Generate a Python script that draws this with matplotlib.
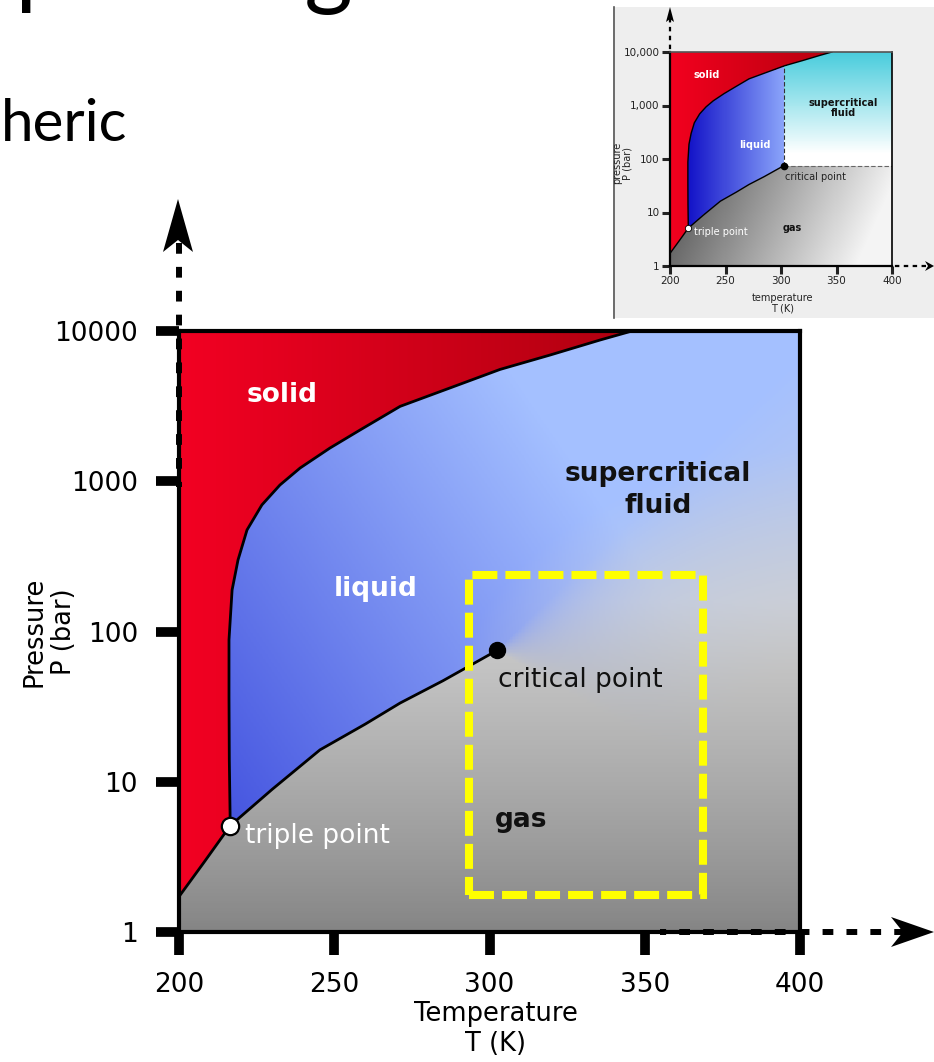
import numpy as np
import matplotlib.pyplot as plt
from matplotlib.path import Path
from matplotlib.patches import Polygon, Rectangle
from matplotlib.lines import Line2D
from matplotlib.ticker import NullLocator

# CO2 phase boundaries, T in K, P in bar
sub_T = [200.0, 208.0, 216.5]
sub_P = [1.72, 2.9, 5.1]
melt_T = [216.5, 216.2, 216.1, 216.1, 217.1, 219.0, 221.9, 226.7, 232.5,
          239.0, 248.6, 258.3, 271.2, 287.3, 303.4, 319.5, 335.6, 345.9]
melt_P = [5.1, 14, 36.6, 88, 189, 299, 474, 696, 944,
          1225, 1663, 2193, 3150, 4180, 5550, 6918, 8710, 10000]
vap_T = [216.5, 230.0, 245.4, 260.0, 271.2, 285.0, 302.5]
vap_P = [5.1, 8.9, 16.3, 24.2, 33.4, 47.0, 75.0]
triple = (216.5, 5.1)
critical = (302.5, 75.0)

T_ticks = [200, 250, 300, 350, 400]
P_ticks = [1, 10, 100, 1000, 10000]
P_labels = ['1', '10', '100', '1000', '10000']
P_labels_small = ['1', '10', '100', '1,000', '10,000']

# operating window
op_T = (293.4, 368.8)
op_P = (1.76, 238.0)

W, H = 934, 1062


def grid(n):
    T_e = np.linspace(200, 400, n + 1)
    lp_e = np.linspace(0, 4, n + 1)
    TT, LL = np.meshgrid(0.5 * (T_e[1:] + T_e[:-1]), 0.5 * (lp_e[1:] + lp_e[:-1]))
    return T_e, 10 ** lp_e, TT, LL


def regions(TT, LL):
    lsub = np.log10(sub_P)
    lmelt = np.log10(melt_P)
    lvap = np.log10(vap_P)
    verts = [(200, 4)] + list(zip(sub_T, lsub)) + list(zip(melt_T[1:], lmelt[1:]))
    solid = Path(verts).contains_points(np.c_[TT.ravel(), LL.ravel()]).reshape(TT.shape)
    edge = np.interp(TT, sub_T + vap_T[1:], list(lsub) + list(lvap[1:]))
    gas = (TT < critical[0]) & (LL < edge) & ~solid
    return solid, gas


def lerp(c0, c1, s):
    c0 = np.array(c0) / 255.0
    c1 = np.array(c1) / 255.0
    return c0 + (c1 - c0) * s[..., None]


fig = plt.figure(figsize=(W / 100, H / 100), dpi=100)

# ---- main diagram ----
ax = fig.add_axes([179 / W, 1 - 932 / H, 621 / W, 601 / H], zorder=1)
T_e, P_e, TT, LL = grid(420)
solid, gas = regions(TT, LL)
u = (TT - 200) / 200
v = LL / 4
vc = np.log10(critical[1]) / 4

gray = lerp((131, 131, 131), (208, 208, 208), np.clip(v / 0.55, 0, 1) ** 0.85)
t = np.clip((0.9 * (u - 0.08) + 0.6 * (v - 0.2)) / 0.85, 0, 1)
blue = lerp((70, 86, 224), (164, 192, 255), t)
w = np.clip((np.hypot(u - 1.05, (v - 0.3) / 0.8) - 0.18) / 0.45, 0, 1)
# past the critical point the liquid/gas edge dissolves gradually
dT = np.clip(TT - critical[0], 0, None)
edge = vc + 0.001 * dT
soft = 0.001 + 0.004 * dT
fade = np.clip(0.5 + (v - edge) / (2 * soft), 0, 1)
w = np.where(TT >= critical[0], w * fade, w)
w[gas] = 0
red = lerp((242, 0, 34), (178, 0, 16), np.clip(u / 0.7, 0, 1))
rgb = w[..., None] * blue + (1 - w[..., None]) * gray
rgb[solid] = red[solid]
ax.pcolormesh(T_e, P_e, rgb, shading='flat', antialiased=False, zorder=0)

for xs, ys in [(sub_T, sub_P), (melt_T, melt_P), (vap_T, vap_P)]:
    ax.plot(xs, ys, color='k', lw=2, solid_capstyle='round', solid_joinstyle='round', zorder=2)
ax.plot(*critical, 'o', ms=11.5, color='k', zorder=3)
ax.plot(*triple, 'o', ms=12.5, mfc='white', mec='k', mew=1.6, zorder=3)

ax.add_patch(Rectangle((op_T[0], op_P[0]), op_T[1] - op_T[0], op_P[1] - op_P[0],
                       fill=False, ec='#ffff00', lw=5.8, ls=(0, (3.1, 1.0)), zorder=4))

fs = 19
ax.text(233.2, 3380, 'solid', color='white', weight='bold', fontsize=fs, ha='center', va='baseline')
ax.text(263.5, 171, 'liquid', color='white', weight='bold', fontsize=fs, ha='center', va='baseline')
ax.text(354.3, 1000, 'supercritical', color='#111111', weight='bold', fontsize=fs, ha='center', va='baseline')
ax.text(354.3, 615, 'fluid', color='#111111', weight='bold', fontsize=fs, ha='center', va='baseline')
ax.text(302.6, 42.6, 'critical point', color='#111111', fontsize=fs, ha='left', va='baseline', zorder=5)
ax.text(301.8, 5.02, 'gas', color='#111111', weight='bold', fontsize=fs, ha='left', va='baseline', zorder=5)
ax.text(221.3, 3.89, 'triple point', color='white', fontsize=fs, ha='left', va='baseline', zorder=5)

ax.set_xlim(200, 400)
ax.set_yscale('log')
ax.set_ylim(1, 10000)
ax.set_xticks(T_ticks, labels=[str(x) for x in T_ticks])
ax.set_yticks(P_ticks, labels=P_labels)
ax.yaxis.set_minor_locator(NullLocator())
ax.tick_params(length=16.5, width=7, labelsize=fs, direction='out')
ax.tick_params(axis='y', pad=13)
ax.tick_params(axis='x', pad=12)
for sp in ax.spines.values():
    sp.set_linewidth(3)
ax.set_xlabel('Temperature\nT (K)', fontsize=18.5, linespacing=1.2)
ax.set_ylabel('Pressure\nP (bar)', fontsize=18.5, linespacing=1.15)
ax.xaxis.set_label_coords(0.51, -0.115)
ax.yaxis.set_label_coords(-0.165, 0.5)

# ---- small copy of the diagram ----
fig.add_artist(Rectangle((613 / W, 1 - 318 / H), (W - 613) / W, 311 / H,
                         transform=fig.transFigure, fc='#eeeeee', ec='none', zorder=0.5))
fig.add_artist(Line2D([613.5 / W, 613.5 / W], [1 - 318 / H, 1 - 7 / H],
                      transform=fig.transFigure, color='#555555', lw=1.2, zorder=0.6))

ins = fig.add_axes([670 / W, 1 - 266 / H, 222 / W, 214 / H], zorder=1)
T_e, P_e, TT, LL = grid(220)
solid, gas = regions(TT, LL)
u = (TT - 200) / 200
v = LL / 4
Tc, Pc = critical
lpc = np.log10(Pc)
gas = gas | ((TT >= Tc) & (LL < lpc))
superc = (TT >= Tc) & (LL >= lpc) & ~solid
liquid = ~(solid | gas | superc)

rgb = lerp((102, 102, 102), (244, 244, 244), np.clip(1.15 * u + 0.5 * (0.47 - v) - 0.2, 0, 1))
liq = lerp((20, 20, 200), (138, 164, 250), np.clip((TT - 218) / (Tc - 218), 0, 1))
sc = lerp((255, 255, 255), (72, 204, 220), np.clip((LL - 2.1) / 1.9, 0, 1))
red = lerp((242, 0, 30), (184, 0, 14), np.clip(u / 0.7, 0, 1))
rgb[liquid] = liq[liquid]
rgb[superc] = sc[superc]
rgb[solid] = red[solid]
ins.pcolormesh(T_e, P_e, rgb, shading='flat', antialiased=False, zorder=0)

for xs, ys in [(sub_T, sub_P), (melt_T, melt_P), (vap_T, vap_P)]:
    ins.plot(xs, ys, color='k', lw=1, solid_joinstyle='round', zorder=2)
top_c = 10 ** np.interp(Tc, melt_T[8:], np.log10(melt_P[8:]))
ins.plot([Tc, Tc], [Pc, top_c], color='#333333', lw=0.8, ls=(0, (4, 2)), zorder=2)
ins.plot([Tc, 400], [Pc, Pc], color='#666666', lw=0.8, ls=(0, (4, 2)), zorder=2)
ins.plot(Tc, Pc, 'o', ms=4.5, color='k', zorder=3)
ins.plot(*triple, 'o', ms=4.5, mfc='white', mec='k', mew=0.6, zorder=3)

sf = 7
ins.text(233.3, 3700, 'solid', color='white', weight='bold', fontsize=sf, ha='center', va='center')
ins.text(276.6, 182, 'liquid', color='white', weight='bold', fontsize=sf, ha='center', va='center')
ins.text(355.9, 900, 'supercritical\nfluid', color='#111111', weight='bold', fontsize=sf,
         ha='center', va='center', linespacing=1.1)
ins.text(303.6, 46, 'critical point', color='#222222', fontsize=sf, ha='left', va='center')
ins.text(221.6, 4.3, 'triple point', color='white', fontsize=sf, ha='left', va='center')
ins.text(309.9, 5.1, 'gas', color='#111111', weight='bold', fontsize=sf, ha='center', va='center')

ins.set_xlim(200, 400)
ins.set_yscale('log')
ins.set_ylim(1, 10000)
ins.set_xticks(T_ticks, labels=[str(x) for x in T_ticks])
ins.set_yticks(P_ticks, labels=P_labels_small)
ins.yaxis.set_minor_locator(NullLocator())
ins.tick_params(length=6, width=2.2, labelsize=7.5, pad=1.5, colors='#222222')
for name, sp in ins.spines.items():
    sp.set_linewidth(1.6 if name in ('left', 'bottom') else 1.2)
ins.spines['top'].set_color('#555555')
ins.set_xlabel('temperature\nT (K)', fontsize=7, linespacing=1.1, color='#222222')
ins.set_ylabel('pressure\nP (bar)', fontsize=7, linespacing=1.1, color='#222222')
ins.xaxis.set_label_coords(0.509, -0.125)
ins.yaxis.set_label_coords(-0.167, 0.481)

# ---- slide layer: text and dashed axis arrows, in pixel units ----
deco = fig.add_axes([0, 0, 1, 1], zorder=5)
deco.set_xlim(0, W)
deco.set_ylim(H, 0)
deco.axis('off')


def dashed(xs, ys, lw, pattern):
    deco.plot(xs, ys, color='k', lw=lw, ls=(0, pattern), dash_capstyle='butt')


def head(pts):
    deco.add_patch(Polygon(pts, closed=True, fc='k', ec='none'))


dashed([179, 179], [243, 487], 4.3, (1.8, 2.2))
head([(178, 199), (193, 252), (178, 240), (163, 252)])
dashed([905, 660], [932, 932], 4.3, (1.8, 2.2))
head([(934, 932), (891, 947), (903, 932), (891, 917)])

dashed([670, 670], [18, 52], 1.6, (2.0, 2.0))
head([(670, 7), (674, 22), (670, 19), (666, 22)])
dashed([926, 893], [266, 266], 1.6, (2.0, 2.0))
head([(934, 266), (925, 271), (928, 266), (925, 261)])

fig.text(800 / W, 1 + 3 / H, 'Operating conditions', fontfamily='Lato', fontsize=67,
         ha='right', va='baseline')
fig.text(1 / W, 1 - 141 / H, 'heric', fontfamily='Lato', fontsize=42, ha='left', va='baseline')

fig.savefig('out.png', dpi=100)
